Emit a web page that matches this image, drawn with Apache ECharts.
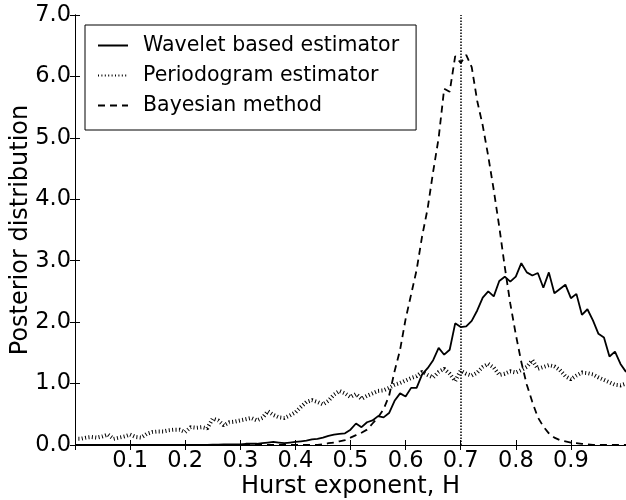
<!DOCTYPE html>
<html>
<head>
<meta charset="utf-8">
<script src="https://cdn.jsdelivr.net/npm/echarts@6/dist/echarts.min.js"></script>
<style>html,body{margin:0;padding:0;background:#fff;}#c{width:626px;height:500px;}</style>
</head>
<body>
<div id="c"></div>
<script>
// Hurst exponent grid (0.00 ... 1.00)
const hurst = [0.00,0.01,0.02,0.03,0.04,0.05,0.06,0.07,0.08,0.09,
  0.10,0.11,0.12,0.13,0.14,0.15,0.16,0.17,0.18,0.19,
  0.20,0.21,0.22,0.23,0.24,0.25,0.26,0.27,0.28,0.29,
  0.30,0.31,0.32,0.33,0.34,0.35,0.36,0.37,0.38,0.39,
  0.40,0.41,0.42,0.43,0.44,0.45,0.46,0.47,0.48,0.49,
  0.50,0.51,0.52,0.53,0.54,0.55,0.56,0.57,0.58,0.59,
  0.60,0.61,0.62,0.63,0.64,0.65,0.66,0.67,0.68,0.69,
  0.70,0.71,0.72,0.73,0.74,0.75,0.76,0.77,0.78,0.79,
  0.80,0.81,0.82,0.83,0.84,0.85,0.86,0.87,0.88,0.89,
  0.90,0.91,0.92,0.93,0.94,0.95,0.96,0.97,0.98,0.99,1.00];

const wavelet = [0,0,0,0,0,0,0,0,0,0,
  0,0,0,0,0,0,0,0,0,0,
  0,0,0,0,0,0.005,0.005,0.01,0.01,0.01,
  0.01,0.02,0.02,0.02,0.03,0.04,0.05,0.04,0.03,0.04,
  0.05,0.06,0.07,0.09,0.10,0.12,0.15,0.17,0.18,0.19,
  0.25,0.35,0.29,0.37,0.40,0.47,0.45,0.52,0.72,0.84,
  0.79,0.93,0.93,1.15,1.25,1.38,1.58,1.47,1.55,1.98,
  1.92,1.93,2.02,2.19,2.40,2.50,2.42,2.67,2.74,2.66,
  2.74,2.96,2.81,2.76,2.80,2.56,2.81,2.47,2.54,2.61,
  2.39,2.46,2.12,2.21,2.03,1.81,1.75,1.44,1.52,1.32,1.19];

const periodogram = [0.10,0.10,0.12,0.13,0.12,0.14,0.17,0.10,0.12,0.14,
  0.17,0.13,0.12,0.18,0.21,0.22,0.22,0.24,0.25,0.25,
  0.21,0.29,0.28,0.29,0.27,0.43,0.40,0.32,0.37,0.38,
  0.40,0.42,0.44,0.40,0.44,0.55,0.49,0.45,0.44,0.48,
  0.53,0.62,0.70,0.73,0.70,0.66,0.72,0.82,0.88,0.84,
  0.78,0.83,0.75,0.80,0.84,0.88,0.89,0.93,0.98,1.01,
  1.05,1.09,1.12,1.19,1.14,1.10,1.19,1.24,1.16,1.04,
  1.21,1.16,1.13,1.18,1.27,1.32,1.26,1.14,1.16,1.20,
  1.18,1.22,1.27,1.38,1.24,1.27,1.30,1.28,1.22,1.12,
  1.07,1.13,1.18,1.17,1.15,1.10,1.06,1.02,0.98,0.97,1.00];

const bayesian = [0,0,0,0,0,0,0,0,0,0,
  0,0,0,0,0,0,0,0,0,0,
  0,0,0,0,0,0,0,0,0,0,
  0,0,0,0,0,0,0,0,0,0,
  0,0,0,0,0,0.01,0.03,0.04,0.06,0.08,
  0.12,0.16,0.20,0.25,0.35,0.45,0.58,0.80,1.20,1.55,
  2.05,2.45,2.85,3.40,3.85,4.45,5.00,5.80,5.75,6.33,
  6.22,6.35,6.15,5.60,5.20,4.70,4.15,3.55,2.90,2.30,
  1.80,1.35,0.98,0.70,0.45,0.30,0.19,0.12,0.08,0.06,
  0.04,0.03,0.02,0.01,0,0,0,0,0,0,0];

const trueH = 0.7;
const seriesNames = ['Wavelet based estimator', 'Periodogram estimator', 'Bayesian method'];
const xLabels = ['0.1','0.2','0.3','0.4','0.5','0.6','0.7','0.8','0.9'];

const pairs = arr => hurst.map((h, i) => [h, arr[i]]);
const FONT = 'DejaVu Sans';

const chart = echarts.init(document.getElementById('c'), null, {renderer: 'canvas'});
const axisCommon = {
  axisLine: {show: true, lineStyle: {color: '#000', width: 1}},
  axisTick: {show: true, inside: true, length: 5, lineStyle: {color: '#000', width: 1}},
  splitLine: {show: false}
};
chart.setOption({
  animation: false,
  backgroundColor: '#fff',
  textStyle: {fontFamily: FONT},
  grid: {left: 75, right: 0, top: 15, bottom: 55, containLabel: false, outerBoundsMode: 'none'},
  legend: {
    orient: 'vertical', left: 85, top: 25,
    padding: [10, 17, 14, 12],
    itemGap: 9, itemWidth: 30, itemHeight: 14,
    borderColor: '#000', borderWidth: 1, borderRadius: 0,
    backgroundColor: '#fff',
    itemStyle: {opacity: 0, borderWidth: 0},
    data: seriesNames,
    textStyle: {fontFamily: FONT, fontSize: 20.5, color: '#000', padding: [0, 0, 0, 10]}
  },
  xAxis: [
    Object.assign({
      type: 'value', position: 'bottom', min: 0, max: 1, interval: 0.1,
      name: 'Hurst exponent, H', nameLocation: 'middle', nameGap: 30, nameMoveOverlap: false,
      nameTextStyle: {fontFamily: FONT, fontSize: 24, color: '#000'},
      axisLabel: {
        color: '#000', fontFamily: FONT, fontSize: 22.5, margin: 5,
        formatter: v => { const s = v.toFixed(1); return xLabels.indexOf(s) >= 0 ? s : ''; }
      }
    }, axisCommon),
    Object.assign({
      type: 'value', position: 'top', min: 0, max: 1, interval: 0.1,
      axisLabel: {show: false}
    }, axisCommon)
  ],
  yAxis: [
    Object.assign({
      type: 'value', position: 'left', min: 0, max: 7, interval: 1,
      name: 'Posterior distribution', nameLocation: 'middle', nameGap: 42, nameRotate: 90, nameMoveOverlap: false,
      nameTextStyle: {fontFamily: FONT, fontSize: 24, color: '#000'},
      axisLabel: {color: '#000', fontFamily: FONT, fontSize: 22.5, margin: 4,
        formatter: v => v.toFixed(1)}
    }, axisCommon),
    Object.assign({
      type: 'value', position: 'right', min: 0, max: 7, interval: 1,
      axisLabel: {show: false}
    }, axisCommon)
  ],
  series: [
    {
      name: seriesNames[0], type: 'line', xAxisIndex: 0, yAxisIndex: 0,
      data: pairs(wavelet), symbol: 'none',
      lineStyle: {color: '#000', width: 1.8, type: 'solid'},
      itemStyle: {color: '#000'},
      markLine: {
        silent: true, symbol: ['none', 'none'], label: {show: false},
        lineStyle: {color: '#000', width: 1.5, type: [1.5, 1.5]},
        data: [{xAxis: trueH}]
      }
    },
    {
      name: seriesNames[1], type: 'line', xAxisIndex: 0, yAxisIndex: 0,
      data: pairs(periodogram), symbol: 'none',
      lineStyle: {color: '#000', width: 4, type: [1, 2.4], cap: 'butt'},
      itemStyle: {color: '#000'}
    },
    {
      name: seriesNames[2], type: 'line', xAxisIndex: 0, yAxisIndex: 0,
      data: pairs(bayesian), symbol: 'none',
      lineStyle: {color: '#000', width: 1.8, type: [7, 5]},
      itemStyle: {color: '#000'}
    }
  ]
});
</script>
</body>
</html>
